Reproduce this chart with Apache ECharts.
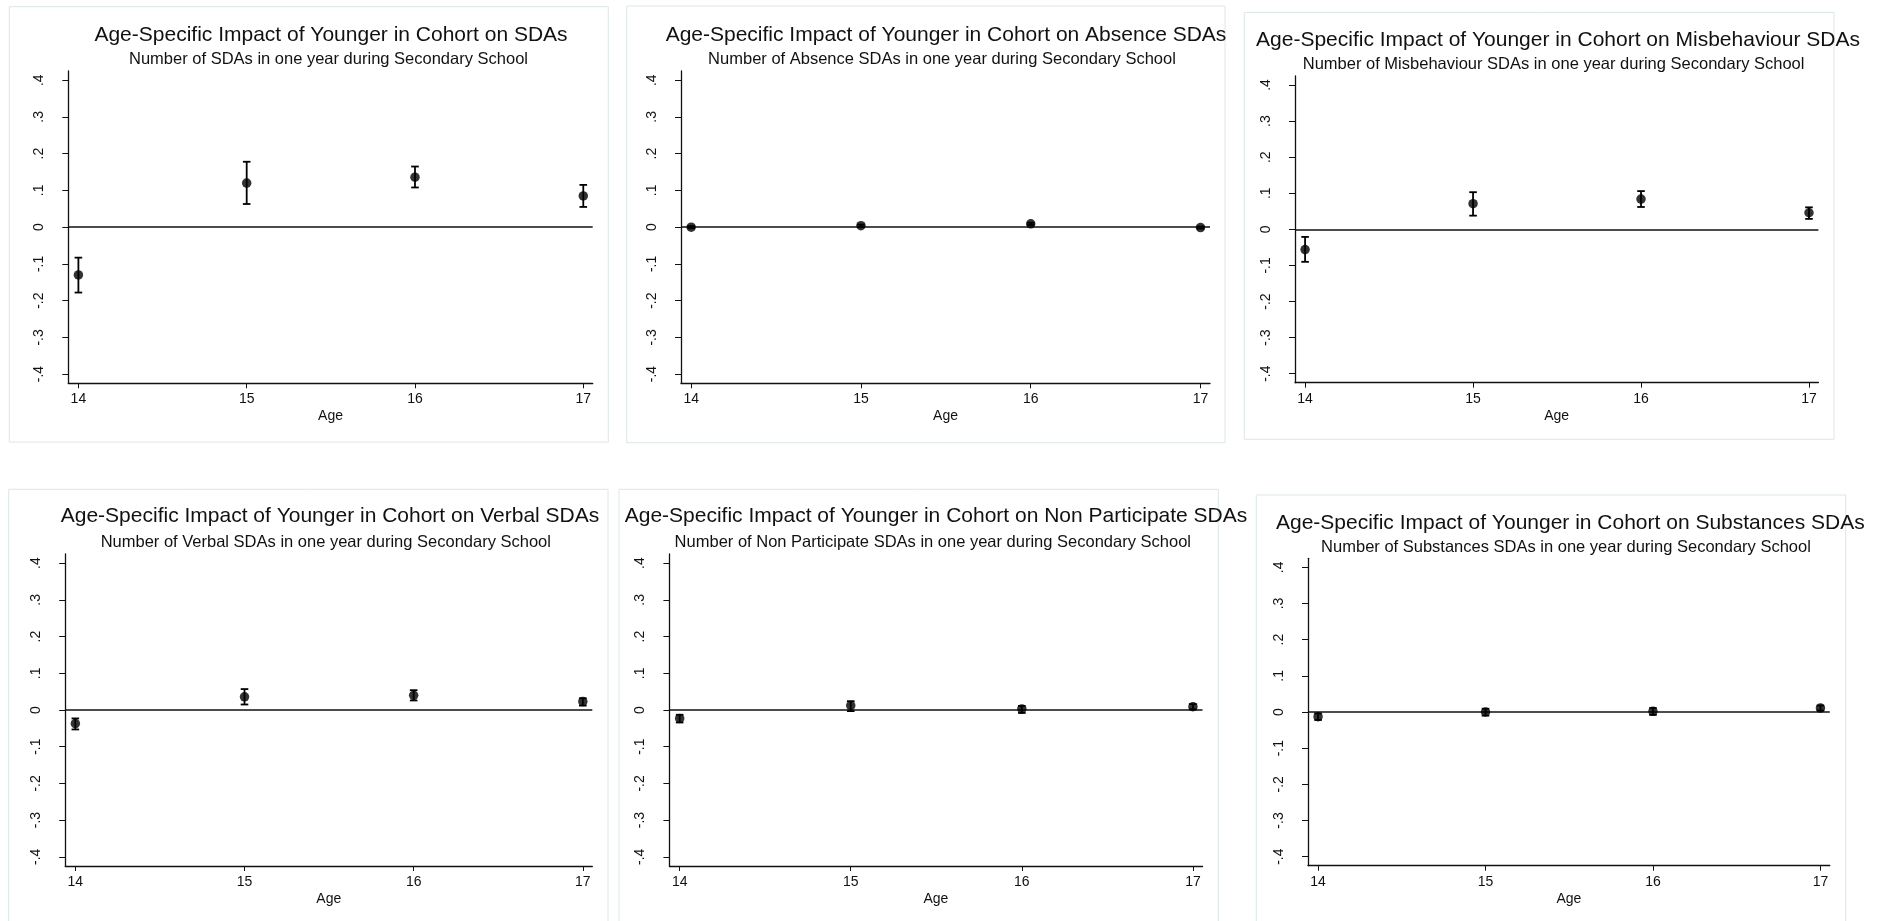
<!DOCTYPE html>
<html>
<head>
<meta charset="utf-8">
<script src="https://cdn.jsdelivr.net/npm/echarts@6/dist/echarts.min.js"></script>
<style>
html,body{margin:0;padding:0;background:#fff;}
#chart{width:1878px;height:921px;}
</style>
</head>
<body>
<div id="chart"></div>
<script>
// ---------- data ----------
var ages = [14, 15, 16, 17];
var xTickLabels = ['14', '15', '16', '17'];
var yTicks = [-0.4, -0.3, -0.2, -0.1, 0, 0.1, 0.2, 0.3, 0.4];
var yTickLabels = ['-.4', '-.3', '-.2', '-.1', '0', '.1', '.2', '.3', '.4'];
var xAxisTitle = 'Age';

var titles = [
  'Age-Specific Impact of Younger in Cohort on SDAs',
  'Age-Specific Impact of Younger in Cohort on Absence SDAs',
  'Age-Specific Impact of Younger in Cohort on Misbehaviour SDAs',
  'Age-Specific Impact of Younger in Cohort on Verbal SDAs',
  'Age-Specific Impact of Younger in Cohort on Non Participate SDAs',
  'Age-Specific Impact of Younger in Cohort on Substances SDAs'
];
var subtitles = [
  'Number of SDAs in one year during Secondary School',
  'Number of Absence SDAs in one year during Secondary School',
  'Number of Misbehaviour SDAs in one year during Secondary School',
  'Number of Verbal SDAs in one year during Secondary School',
  'Number of Non Participate SDAs in one year during Secondary School',
  'Number of Substances SDAs in one year during Secondary School'
];

var sdaEst = [-0.130, 0.120, 0.136, 0.085];
var sdaLo  = [-0.178, 0.063, 0.108, 0.055];
var sdaHi  = [-0.083, 0.178, 0.165, 0.115];

var absenceEst = [0.000, 0.004, 0.009, -0.001];
var absenceLo  = [-0.003, 0.001, 0.006, -0.004];
var absenceHi  = [0.003, 0.007, 0.012, 0.002];

var misbehaviourEst = [-0.056, 0.071, 0.084, 0.046];
var misbehaviourLo  = [-0.090, 0.038, 0.062, 0.029];
var misbehaviourHi  = [-0.021, 0.103, 0.106, 0.061];

var verbalEst = [-0.037, 0.036, 0.040, 0.023];
var verbalLo  = [-0.053, 0.015, 0.026, 0.012];
var verbalHi  = [-0.023, 0.057, 0.054, 0.032];

var nonParticipateEst = [-0.023, 0.012, 0.003, 0.009];
var nonParticipateLo  = [-0.034, -0.003, -0.008, 0.002];
var nonParticipateHi  = [-0.013, 0.024, 0.011, 0.016];

var substancesEst = [-0.013, 0.000, 0.002, 0.011];
var substancesLo  = [-0.022, -0.010, -0.008, 0.004];
var substancesHi  = [-0.004, 0.009, 0.011, 0.018];

var estimates = [sdaEst, absenceEst, misbehaviourEst, verbalEst, nonParticipateEst, substancesEst];
var lowers    = [sdaLo, absenceLo, misbehaviourLo, verbalLo, nonParticipateLo, substancesLo];
var uppers    = [sdaHi, absenceHi, misbehaviourHi, verbalHi, nonParticipateHi, substancesHi];

// ---------- layout (pixels) ----------
var layout = [
  {box: [9.3, 6.7, 608.3, 442],     grid: [68.3, 71, 592.7, 383.3],   title: [331, 35],      sub: [328.5, 59]},
  {box: [626.7, 6, 1225, 442.7],    grid: [681, 71, 1210, 383.3],     title: [946, 35],      sub: [942, 59.3]},
  {box: [1244.3, 12.5, 1834, 439.3],grid: [1295, 76, 1818.4, 382.7],  title: [1558, 40.7],   sub: [1553.6, 64]},
  {box: [8.7, 489.3, 608, 940],     grid: [65.2, 554, 592.3, 866],    title: [330, 516.7],   sub: [325.8, 542.7]},
  {box: [619, 489.3, 1218.3, 940],  grid: [669.4, 554, 1202.5, 866],  title: [936, 516.7],   sub: [932.8, 542.7]},
  {box: [1256.3, 495, 1845.7, 940], grid: [1308, 558.3, 1829.8, 865.7], title: [1570.3, 523.3], sub: [1566, 547.7]}
];

var FONT = '"Liberation Sans", Arial, Helvetica, sans-serif';
var INK = '#111';

var grids = [], xAxes = [], yAxes = [], series = [], graphics = [];

layout.forEach(function (p, k) {
  graphics.push({
    type: 'rect', z: 0, silent: true,
    shape: {x: p.box[0], y: p.box[1], width: p.box[2] - p.box[0], height: p.box[3] - p.box[1]},
    style: {fill: '#fff', stroke: '#dde6e7', lineWidth: 1}
  });
  graphics.push({
    type: 'text', z: 10, silent: true, x: p.title[0], y: p.title[1],
    style: {text: titles[k], fontSize: 21, fontFamily: FONT, fill: INK, align: 'center', verticalAlign: 'middle'}
  });
  graphics.push({
    type: 'text', z: 10, silent: true, x: p.sub[0], y: p.sub[1],
    style: {text: subtitles[k], fontSize: 16.5, fontFamily: FONT, fill: INK, align: 'center', verticalAlign: 'middle'}
  });

  grids.push({
    left: p.grid[0], top: p.grid[1],
    width: p.grid[2] - p.grid[0], height: p.grid[3] - p.grid[1],
    containLabel: false
  });

  xAxes.push({
    type: 'value', gridIndex: k, min: 13.94, max: 17.056,
    name: xAxisTitle, nameLocation: 'middle', nameGap: 26,
    nameTextStyle: {fontSize: 14, fontFamily: FONT, color: INK},
    axisLine: {show: true, onZero: false, lineStyle: {color: INK, width: 1.3}},
    axisTick: {show: true, length: 5, customValues: ages, lineStyle: {color: INK, width: 1}},
    axisLabel: {
      show: true, margin: 9, fontSize: 14, fontFamily: FONT, color: INK,
      customValues: ages,
      formatter: function (v) { return xTickLabels[ages.indexOf(v)]; }
    },
    splitLine: {show: false}
  });

  yAxes.push({
    type: 'value', gridIndex: k, min: -0.425, max: 0.425,
    axisLine: {show: true, lineStyle: {color: INK, width: 1.3}},
    axisTick: {show: true, length: 6, customValues: yTicks, lineStyle: {color: INK, width: 1}},
    axisLabel: {
      show: true, rotate: 90, margin: 22, fontSize: 14, fontFamily: FONT, color: INK,
      customValues: yTicks,
      formatter: function (v) {
        for (var i = 0; i < yTicks.length; i++) {
          if (Math.abs(yTicks[i] - v) < 1e-9) return yTickLabels[i];
        }
        return '';
      }
    },
    splitLine: {show: false}
  });

  var est = estimates[k], lo = lowers[k], hi = uppers[k];

  series.push({
    type: 'custom', xAxisIndex: k, yAxisIndex: k, z: 3,
    data: ages.map(function (a, i) { return [a, lo[i], hi[i]]; }),
    renderItem: function (params, api) {
      var x = api.value(0);
      var b = api.coord([x, api.value(1)]);
      var t = api.coord([x, api.value(2)]);
      var hw = 3.8;
      var ls = {stroke: '#000', lineWidth: 1.8};
      return {
        type: 'group',
        children: [
          {type: 'line', shape: {x1: t[0], y1: t[1], x2: b[0], y2: b[1]}, style: ls},
          {type: 'line', shape: {x1: t[0] - hw, y1: t[1], x2: t[0] + hw, y2: t[1]}, style: ls},
          {type: 'line', shape: {x1: b[0] - hw, y1: b[1], x2: b[0] + hw, y2: b[1]}, style: ls}
        ]
      };
    }
  });

  series.push({
    type: 'scatter', xAxisIndex: k, yAxisIndex: k, z: 4,
    symbol: 'circle', symbolSize: 9.5,
    itemStyle: {color: '#000'},
    data: ages.map(function (a, i) { return [a, est[i]]; }),
    markLine: {
      silent: true, symbol: ['none', 'none'], animation: false, z: 2,
      label: {show: false},
      lineStyle: {color: INK, width: 1.6, type: 'solid'},
      data: [{yAxis: 0}]
    }
  });
});

var chart = echarts.init(document.getElementById('chart'), null, {renderer: 'canvas'});
chart.setOption({
  animation: false,
  backgroundColor: '#fff',
  textStyle: {fontFamily: FONT},
  grid: grids,
  xAxis: xAxes,
  yAxis: yAxes,
  series: series,
  graphic: {elements: graphics}
});
</script>
</body>
</html>
